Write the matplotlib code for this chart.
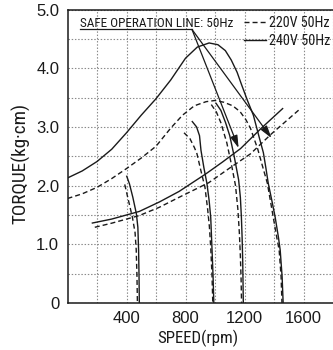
import matplotlib
matplotlib.use("Agg")
import matplotlib.pyplot as plt
from matplotlib.lines import Line2D
from matplotlib import font_manager

# ---------------- data (speed in rpm, torque in kg*cm) ----------------
# motor reaching ~1460 rpm
m1450_240_speed = [0, 100, 200, 300, 400, 500, 600, 700, 800, 880, 960, 1020, 1070, 1110, 1150,
                   1180, 1220, 1260, 1300, 1328, 1345, 1361, 1385, 1408, 1430, 1442, 1455, 1462]
m1450_240_torque = [2.13, 2.25, 2.41, 2.62, 2.90, 3.20, 3.48, 3.80, 4.17, 4.36, 4.43, 4.40, 4.30, 4.14, 3.93,
                    3.72, 3.45, 3.20, 2.82, 2.56, 2.30, 2.04, 1.75, 1.46, 1.12, 0.90, 0.45, 0.0]
m1450_220_speed = [0, 100, 200, 300, 400, 500, 600, 700, 780, 860, 940, 1000, 1060, 1120, 1170,
                   1210, 1240, 1265, 1290, 1320, 1355, 1395, 1420, 1435, 1448, 1454]
m1450_220_torque = [1.78, 1.86, 1.97, 2.12, 2.29, 2.47, 2.67, 2.98, 3.20, 3.36, 3.43, 3.45, 3.42, 3.36, 3.26,
                    3.12, 2.98, 2.80, 2.62, 2.35, 2.04, 1.46, 1.10, 0.90, 0.45, 0.0]
# motor reaching ~1190 rpm
m1200_240_speed = [1005, 1040, 1072, 1100, 1130, 1160, 1172, 1179, 1184, 1188, 1190, 1192]
m1200_240_torque = [3.41, 3.28, 3.07, 2.85, 2.50, 2.10, 1.80, 1.46, 1.10, 0.70, 0.35, 0.0]
m1200_220_speed = [975, 1010, 1040, 1080, 1113, 1139, 1155, 1165, 1172, 1177, 1180]
m1200_220_torque = [3.38, 3.25, 3.07, 2.73, 2.34, 2.00, 1.60, 1.20, 0.80, 0.40, 0.0]
# motor reaching ~990 rpm
m1000_240_speed = [843, 875, 895, 905, 925, 945, 960, 971, 980, 987, 992]
m1000_240_torque = [3.10, 3.00, 2.85, 2.60, 2.30, 2.04, 1.75, 1.46, 0.90, 0.45, 0.0]
m1000_220_speed = [790, 830, 860, 878, 900, 932, 950, 962, 972, 980, 985]
m1000_220_torque = [2.90, 2.80, 2.65, 2.54, 2.30, 1.97, 1.60, 1.30, 0.90, 0.45, 0.0]
# motor reaching ~490 rpm
m500_240_speed = [400, 420, 443, 467, 477, 482, 485, 487]
m500_240_torque = [2.17, 2.03, 1.80, 1.52, 1.29, 0.90, 0.45, 0.0]
m500_220_speed = [388, 413, 440, 458, 466, 471, 474]
m500_220_torque = [2.02, 1.75, 1.46, 1.20, 0.90, 0.45, 0.0]
# safe operation lines
safe_240_speed = [164, 300, 487, 622, 756, 938, 1050, 1173, 1315, 1462]
safe_240_torque = [1.36, 1.43, 1.56, 1.72, 1.90, 2.20, 2.40, 2.63, 2.98, 3.32]
safe_220_speed = [185, 300, 487, 622, 756, 958, 1100, 1240, 1382, 1583]
safe_220_torque = [1.29, 1.36, 1.49, 1.63, 1.80, 2.05, 2.30, 2.54, 2.88, 3.32]

x_major = [400, 800, 1200, 1600]
x_major_labels = ["400", "800", "1200", "1600"]
x_minor = [200, 600, 1000, 1400, 1800]
y_major = [0, 1, 2, 3, 4, 5]
y_major_labels = ["0", "1.0", "2.0", "3.0", "4.0", "5.0"]
y_minor = [0.5, 1.5, 2.5, 3.5, 4.5]

series_labels = ["220V 50Hz", "240V 50Hz"]
x_title = "SPEED(rpm)"
y_title = "TORQUE(kg·cm)"
note_text = "SAFE OPERATION LINE: 50Hz"
note_start = (84, 4.66)
note_corner = (844, 4.66)
arrow_tips = [(1160, 2.64), (1383, 2.81)]

# ---------------- fonts ----------------
available = {f.name for f in font_manager.fontManager.ttflist}
narrow_pref = ["Liberation Sans Narrow", "Roboto Condensed", "Open Sans Condensed",
               "DejaVu Sans Condensed", "Roboto", "Liberation Sans"]
narrow_font = next((n for n in narrow_pref if n in available), "DejaVu Sans")
NARROW = [narrow_font, "DejaVu Sans"]
reg_font = "Liberation Sans" if "Liberation Sans" in available else "DejaVu Sans"
REG = [reg_font, "DejaVu Sans"]
INK = "#1a1a1a"
DASH = (0, (3.6, 2.2))

fig = plt.figure(figsize=(3.33, 3.50), dpi=100)
ax = fig.add_axes([67.5 / 333, 47 / 350, 265.5 / 333, 293.5 / 350])
ax.set_xlim(0, 1785)
ax.set_ylim(0, 5.0)

solid_pairs = [(m1450_240_speed, m1450_240_torque), (m1200_240_speed, m1200_240_torque),
               (m1000_240_speed, m1000_240_torque), (m500_240_speed, m500_240_torque),
               (safe_240_speed, safe_240_torque)]
dashed_pairs = [(m1450_220_speed, m1450_220_torque), (m1200_220_speed, m1200_220_torque),
                (m1000_220_speed, m1000_220_torque), (m500_220_speed, m500_220_torque),
                (safe_220_speed, safe_220_torque)]
for xs, ys in solid_pairs:
    ax.plot(xs, ys, color=INK, lw=1.0, solid_capstyle="butt", zorder=3)
for xs, ys in dashed_pairs:
    ax.plot(xs, ys, color=INK, lw=1.0, linestyle=DASH, zorder=3)

# grid
ax.set_xticks(x_major)
ax.set_xticklabels(x_major_labels)
ax.set_xticks(x_minor, minor=True)
ax.set_yticks(y_major)
ax.set_yticklabels(y_major_labels)
ax.set_yticks(y_minor, minor=True)
ax.grid(True, which="both", color="#8a8a8a", lw=0.8, linestyle=(0, (1.3, 1.6)), zorder=1)
ax.set_axisbelow(True)
ax.tick_params(which="both", length=0)
ax.tick_params(axis="x", pad=6)
ax.tick_params(axis="y", pad=6)
for lab in ax.get_xticklabels() + ax.get_yticklabels():
    lab.set_fontfamily(REG)
    lab.set_fontsize(12)
    lab.set_color(INK)

for s in ["left", "bottom", "top"]:
    ax.spines[s].set_linewidth(1.1)
    ax.spines[s].set_color(INK)
ax.spines["right"].set_visible(False)

xl = ax.set_xlabel(x_title, family=NARROW, fontsize=12, color=INK)
yl = ax.set_ylabel(y_title, family=NARROW, fontsize=12, color=INK)
ax.xaxis.set_label_coords(0.49, -0.09)
ax.yaxis.set_label_coords(-0.14, 0.475)

# annotation: safe operation line
note = ax.text(note_start[0], note_start[1] + 0.05, note_text, family=NARROW, fontsize=10,
               color=INK, ha="left", va="baseline", zorder=4)
ax.plot([note_start[0], note_corner[0]], [note_start[1], note_corner[1]], color=INK, lw=0.9, zorder=4)
for tip in arrow_tips:
    ax.annotate("", xy=tip, xytext=note_corner,
                arrowprops=dict(arrowstyle="-|>,head_length=0.75,head_width=0.22", color=INK,
                                lw=0.9, shrinkA=0, shrinkB=0, mutation_scale=10), zorder=4)

# legend
handles = [Line2D([], [], color=INK, lw=1.0, linestyle=DASH),
           Line2D([], [], color=INK, lw=1.0)]
leg = ax.legend(handles, series_labels, loc="upper right", bbox_to_anchor=(0.99, 0.978),
                frameon=False, borderpad=0, borderaxespad=0, handlelength=1.6,
                handletextpad=0.2, labelspacing=0.3, prop={"family": NARROW, "size": 10})
for t in leg.get_texts():
    t.set_color(INK)

# fit text sizes to the measured pixel extents of the reference
targets = [(note, 153, "w", 13), (xl, 81, "w", 14), (yl, 121, "h", 14.5)]
targets += [(t, 61, "w", 12.5) for t in leg.get_texts()]
for _ in range(3):
    fig.canvas.draw()
    r = fig.canvas.get_renderer()
    for t, px, dim, cap in targets:
        bb = t.get_window_extent(r)
        cur = bb.width if dim == "w" else bb.height
        t.set_fontsize(min(cap, t.get_fontsize() * px / cur))

fig.savefig("out.png", dpi=100)
